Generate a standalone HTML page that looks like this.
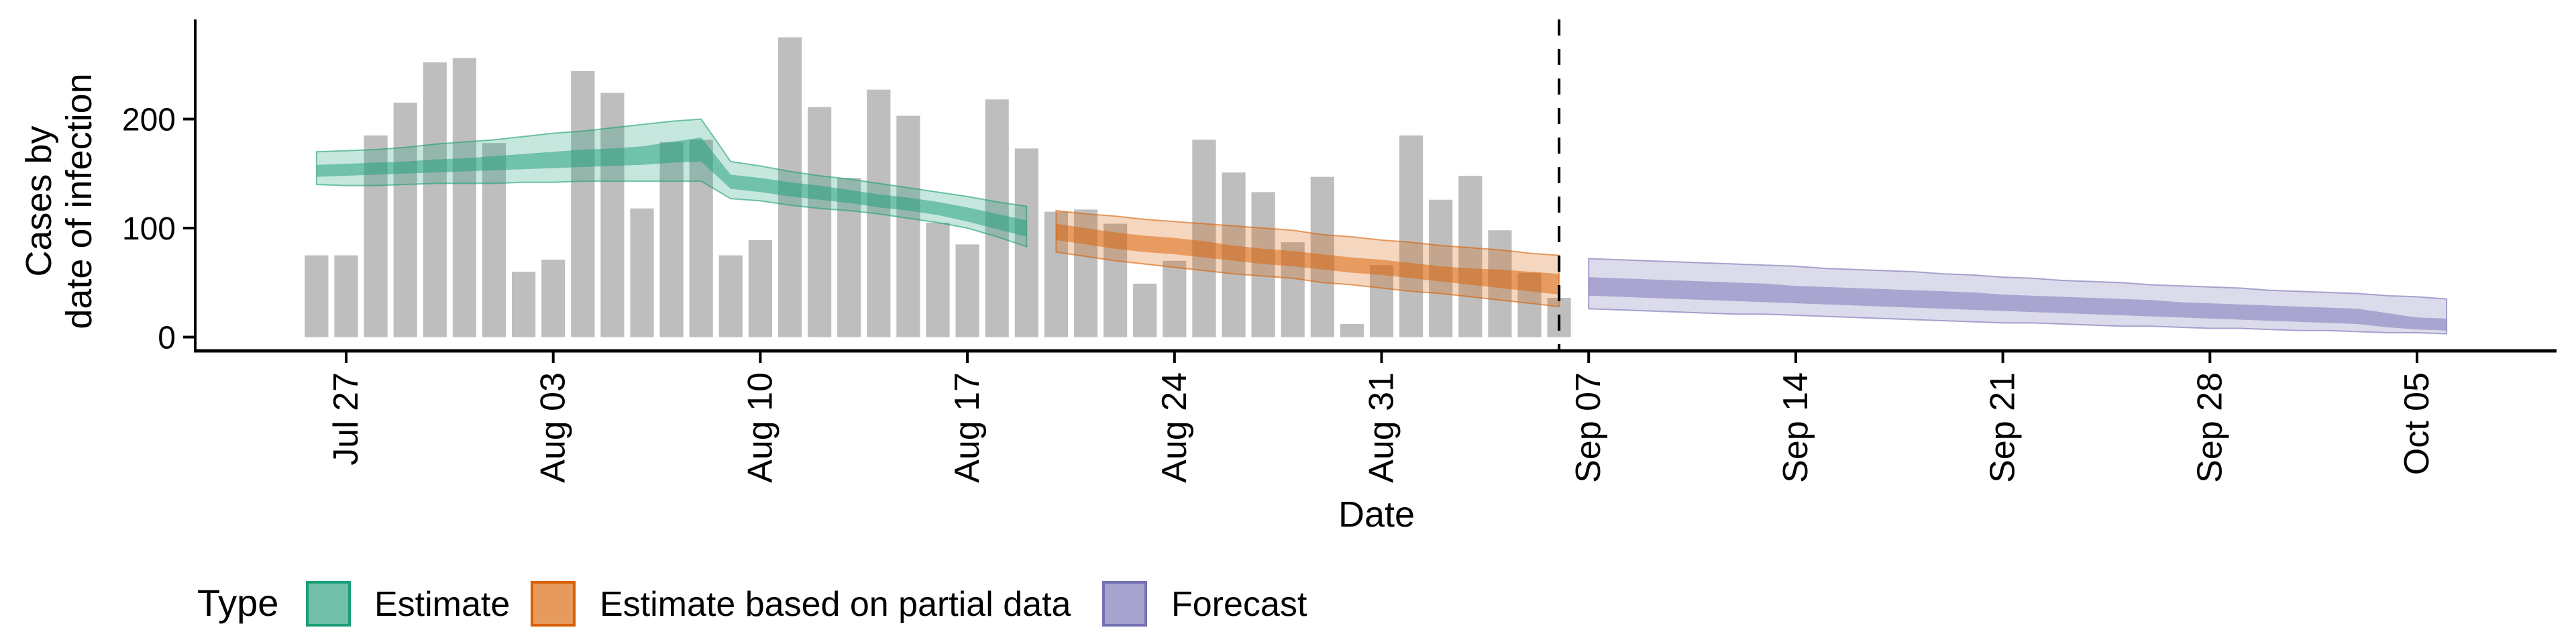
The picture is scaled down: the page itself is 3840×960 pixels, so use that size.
<!DOCTYPE html>
<html><head><meta charset="utf-8"><style>
html,body{margin:0;padding:0;background:#fff;}
svg{display:block;font-family:"Liberation Sans",sans-serif;}
</style></head><body>
<svg id="chart" width="3840" height="960" viewBox="0 0 3840 960" xmlns="http://www.w3.org/2000/svg">
<g id="bars"></g>
<g id="ribbons"></g>
<g id="axes"></g>
<text transform="translate(88,300) rotate(-90)" text-anchor="middle" font-size="54"><tspan x="0" dy="-12">Cases by</tspan><tspan x="0" dy="60">date of infection</tspan></text>
<text x="2052" y="785" text-anchor="middle" font-size="54">Date</text>
<g>
<text x="294" y="918" font-size="56">Type</text>
<g>
<rect x="458" y="868" width="63" height="64" fill="#70c0a8" stroke="#1b9e77" stroke-width="4"/>
<text x="558" y="918" font-size="52">Estimate</text></g>
<g>
<rect x="793" y="868" width="63" height="64" fill="#e79a5e" stroke="#d95f02" stroke-width="4"/>
<text x="894" y="918" font-size="52">Estimate based on partial data</text></g>
<g>
<rect x="1645" y="868" width="63" height="64" fill="#a7a5d0" stroke="#7570b3" stroke-width="4"/>
<text x="1746" y="918" font-size="52">Forecast</text></g>
</g>
</svg>
<script>
// day index 0 = Jul 27
const barStart = -1; // Jul 26
const barValues = [75,75,185,215,252,256,178,60,71,244,224,118,179,181,75,89,275,211,146,227,203,105,85,218,173,115,117,104,49,70,181,151,133,87,147,12,66,185,126,148,98,59,36];
const estStart = -1;
const estOuterUp = [170,171,172,174,177,179,181,184,187,189,192,195,198,200,161,157,152,148,145,141,137,133,129,124,120];
const estOuterLo = [140,139,139,140,141,141,141,142,142,143,143,143,143,143,127,125,121,118,116,113,109,105,100,92,83];
const estInnerUp = [158,159,160,161,163,164,166,168,170,172,173,175,179,183,149,146,142,139,135,131,128,124,119,113,107];
const estInnerLo = [147,148,149,150,151,152,153,154,155,156,157,158,160,161,136,133,129,126,123,119,116,112,106,99,92];
const partStart = 24;
const partOuterUp = [116,113,111,108,106,104,102,100,98,94,92,89,87,84,82,80,77,75];
const partOuterLo = [78,74,70,67,64,61,58,56,54,50,48,45,42,40,37,34,31,28];
const partInnerUp = [104,100,96,93,91,88,84,81,79,76,73,71,68,65,63,62,60,58];
const partInnerLo = [89,85,81,78,76,73,70,67,65,62,59,57,54,51,48,45,42,39];
const fcStart = 42;
const fcOuterUp = [72,71,70,69,68,67,66,65,63,62,61,60,58,57,55,54,52,51,50,48,47,46,45,43,42,41,40,38,37,35];
const fcOuterLo = [26,25,24,23,22,21,21,20,19,18,17,16,15,14,13,13,12,11,10,10,9,8,8,7,6,6,5,4,4,3];
const fcInnerUp = [55,54,53,52,51,50,49,47,46,45,44,43,42,41,39,38,37,36,35,34,32,31,30,29,28,27,26,22,18,17];
const fcInnerLo = [38,37,36,35,34,33,32,31,30,29,28,27,26,25,24,23,22,21,20,19,18,17,16,15,14,13,12,9,7,6];
const xTickDays = [0,7,14,21,28,35,42,49,56,63,70];
const xTickLabels = ["Jul 27","Aug 03","Aug 10","Aug 17","Aug 24","Aug 31","Sep 07","Sep 14","Sep 21","Sep 28","Oct 05"];
const yTicks = [0,100,200];
const cutoffDay = 41;

const NS = "http://www.w3.org/2000/svg";
const X = d => 516 + 44.1 * d;
const Y = v => 502.5 - 1.625 * v;
function mk(tag, attrs, parent){const e=document.createElementNS(NS,tag);for(const k in attrs)e.setAttribute(k,attrs[k]);parent.appendChild(e);return e;}

const gb = document.getElementById('bars');
barValues.forEach((v,i)=>{
  const d = barStart + i;
  const r = mk('rect',{x:X(d)-17.6,y:Y(v),width:35.2,height:Y(0)-Y(v),fill:'#bebebe'},gb);
  
  
});

const gr = document.getElementById('ribbons');
function ribbon(start, up, lo, color, op, stroke, name){
  let pts = up.map((v,i)=>X(start+i)+','+Y(v));
  pts = pts.concat(lo.map((v,i)=>X(start+i)+','+Y(v)).reverse());
  const p = mk('polygon',{points:pts.join(' '),fill:color,'fill-opacity':op,stroke:stroke?color:'none','stroke-width':2,'stroke-opacity':0.6},gr);
  
  
}
ribbon(estStart,estOuterUp,estOuterLo,'#1b9e77',0.25,true,'estimate-outer-ribbon');
ribbon(estStart,estInnerUp,estInnerLo,'#1b9e77',0.5,false,'estimate-inner-ribbon');
ribbon(partStart,partOuterUp,partOuterLo,'#d95f02',0.25,true,'partial-outer-ribbon');
ribbon(partStart,partInnerUp,partInnerLo,'#d95f02',0.5,false,'partial-inner-ribbon');
ribbon(fcStart,fcOuterUp,fcOuterLo,'#7570b3',0.25,true,'forecast-outer-ribbon');
ribbon(fcStart,fcInnerUp,fcInnerLo,'#7570b3',0.5,false,'forecast-inner-ribbon');

const ga = document.getElementById('axes');
const dl = mk('line',{x1:X(cutoffDay),x2:X(cutoffDay),y1:29,y2:523,stroke:'#000','stroke-width':4,'stroke-dasharray':'24,20'},ga);


const ya = mk('line',{x1:291,x2:291,y1:29,y2:525,stroke:'#000','stroke-width':4},ga);


const xa = mk('line',{x1:289,x2:3811,y1:523,y2:523,stroke:'#000','stroke-width':5},ga);


yTicks.forEach(v=>{
  const t = mk('line',{x1:273,x2:291,y1:Y(v),y2:Y(v),stroke:'#000','stroke-width':4},ga);
  
  
  const l = mk('text',{x:262,y:Y(v)+17,'text-anchor':'end','font-size':48},ga);
  l.textContent = v;
  
  
});
xTickDays.forEach((d,i)=>{
  const t = mk('line',{x1:X(d),x2:X(d),y1:523,y2:541,stroke:'#000','stroke-width':4},ga);
  
  
  const l = mk('text',{transform:'translate('+(X(d)+17)+',555) rotate(-90)','text-anchor':'end','font-size':52},ga);
  l.textContent = xTickLabels[i];
  
  
});
</script>
</body></html>
